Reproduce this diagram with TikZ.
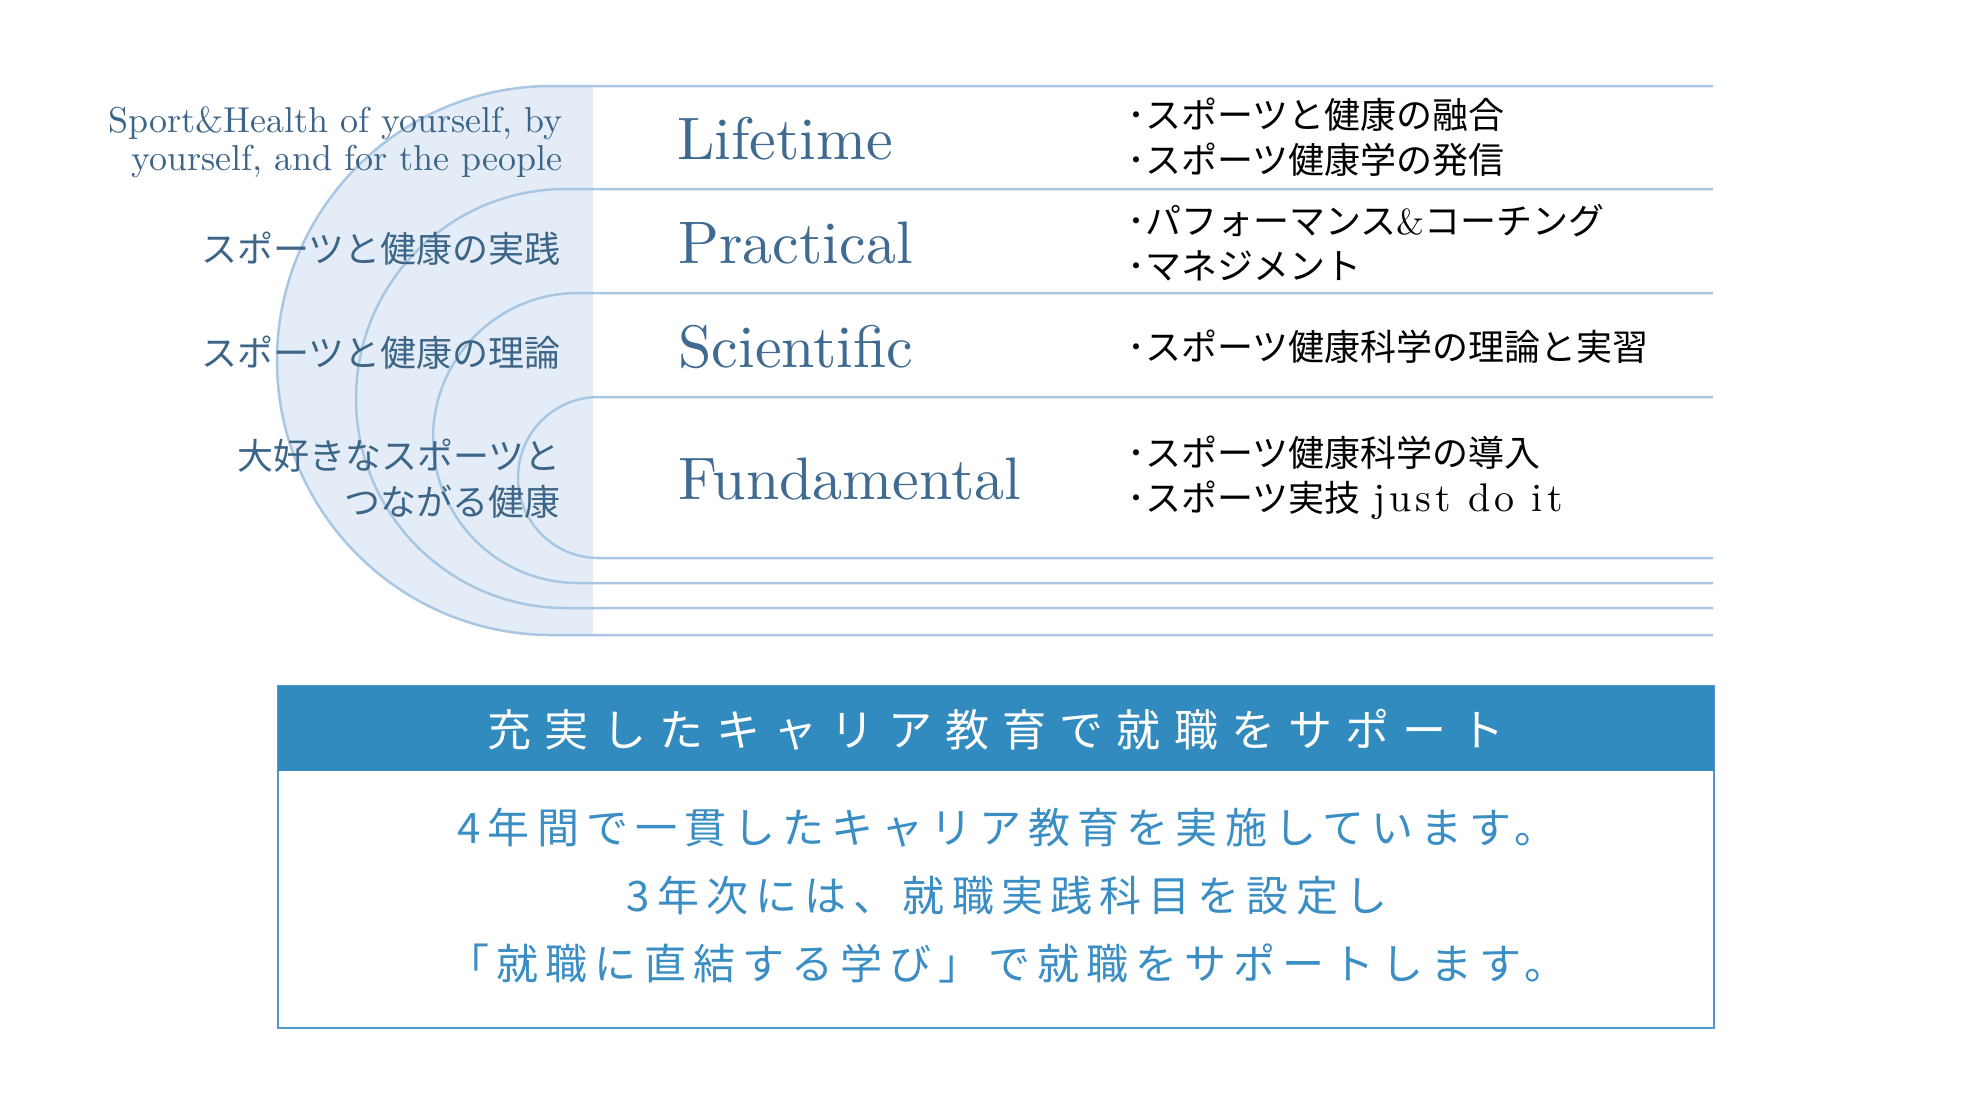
\documentclass[tikz,border=0pt]{standalone}
\usepackage{fontspec}
\newfontfamily\jpfont{Noto Sans CJK JP}
\newfontfamily\lmten{lmroman10-regular.otf}
\usepackage{tikz}
\usetikzlibrary{positioning}
\definecolor{trackline}{RGB}{169,199,227}
\definecolor{trackfill}{RGB}{228,237,247}
\definecolor{labelblue}{RGB}{61,101,135}
\definecolor{stageblue}{RGB}{63,106,145}
\definecolor{headblue}{RGB}{50,139,190}
\definecolor{bodyblue}{RGB}{58,142,196}
\definecolor{frameblue}{RGB}{79,152,200}

\begin{document}
\begin{tikzpicture}[x=0.5pt,y=0.5pt,yscale=-1,xscale=1,
  track/.style={draw=trackline, line width=1.25pt},
  sidelabel/.style={anchor=east, inner sep=0pt, align=right, text=labelblue},
  stagelabel/.style={anchor=base west, inner sep=0pt, text=stageblue, font={\lmten\fontsize{30pt}{30pt}\selectfont}},
  itemlabel/.style={anchor=west, inner sep=0pt, align=left, text=black, font={\jpfont\fontsize{18pt}{22.5pt}\selectfont}}]
\useasboundingbox (0,0) rectangle (1987,1100);

%Shape: Shaded half disc
\fill [trackfill] (593,86) -- (551.5,86) arc [start angle=270, end angle=90, radius=274.5] -- (593,635) -- cycle;

%Shape: Arc [outer]
\draw [track] (1713,86) -- (551.5,86) arc [start angle=270, end angle=90, radius=274.5] -- (1713,635);
%Shape: Arc
\draw [track] (1713,189) -- (565.5,189) arc [start angle=270, end angle=90, radius=209.5] -- (1713,608);
%Shape: Arc
\draw [track] (1713,293) -- (578,293) arc [start angle=270, end angle=90, radius=145] -- (1713,583);
%Shape: Arc [inner]
\draw [track] (1713,397) -- (598.5,397) arc [start angle=270, end angle=90, radius=80.5] -- (1713,558);

% Text Node
\draw (563,142) node [sidelabel, font={\lmten\fontsize{18pt}{19pt}\selectfont}] (motto) {Sport\&Health of yourself, by\\yourself, and for the people};
% Text Node
\draw (561,249) node [sidelabel, font={\jpfont\fontsize{18pt}{23pt}\selectfont}] (practice) {スポーツと健康の実践};
% Text Node
\draw (561,353) node [sidelabel, font={\jpfont\fontsize{18pt}{23pt}\selectfont}] (theory) {スポーツと健康の理論};
% Text Node
\draw (561,479) node [sidelabel, font={\jpfont\fontsize{18pt}{23pt}\selectfont}] (favorite) {大好きなスポーツと\\つながる健康};

% Text Node
\draw (677,159) node [stagelabel] (lifetime) {Lifetime};
% Text Node
\draw (678,263) node [stagelabel] (practical) {Practical};
% Text Node
\draw (678,367) node [stagelabel] (scientific) {Scientific};
% Text Node
\draw (678,499) node [stagelabel] (fundamental) {Fundamental};

% Text Node
\draw (1127,137.5) node [itemlabel] (lifetimeitems) {･スポーツと健康の融合\\･スポーツ健康学の発信};
% Text Node
\draw (1127,242.5) node [itemlabel] (practicalitems) {･パフォーマンス{\lmten\&}コーチング\\･マネジメント};
% Text Node
\draw (1127,347) node [itemlabel] (scientificitems) {･スポーツ健康科学の理論と実習};
% Text Node
\draw (1127,477.5) node [itemlabel] (fundamentalitems) {･スポーツ健康科学の導入\\･スポーツ実技\hspace{0.35em}{\lmten\fontsize{20pt}{22.5pt}\selectfont\addfontfeatures{LetterSpace=10}just do it}};

%Shape: Rectangle [career box]
\draw [draw=frameblue, line width=1pt, fill=white] (278,686) rectangle (1714,1028);
%Shape: Rectangle [career header]
\fill [headblue] (278,686) rectangle (1714,771);

% Text Node
\draw (996,730) node [inner sep=0pt, text=white, font={\jpfont\fontsize{22pt}{22pt}\selectfont\addfontfeatures{LetterSpace=30}}] (careerhead) {充実したキャリア教育で就職をサポート};
% Text Node
\draw (1007,896) node [inner sep=0pt, align=center, text=bodyblue, font={\jpfont\fontsize{21pt}{34pt}\selectfont\addfontfeatures{LetterSpace=17}}] (careerbody) {4年間で一貫したキャリア教育を実施しています。\\3年次には、就職実践科目を設定し\\「就職に直結する学び」で就職をサポートします。};
\end{tikzpicture}
\end{document}
